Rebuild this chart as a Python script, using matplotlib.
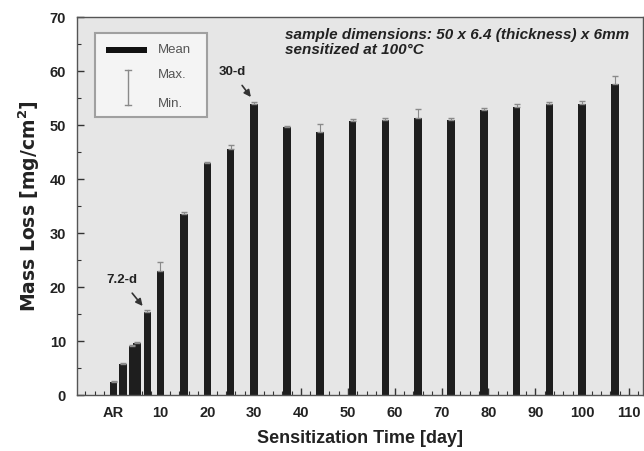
import matplotlib
matplotlib.use('Agg')
import matplotlib.pyplot as plt
from matplotlib.patches import Rectangle
from matplotlib.ticker import MultipleLocator

plt.rcParams['font.family'] = ['Liberation Sans', 'DejaVu Sans']

# sensitization days (0 = as received) and mass loss values
days = [0, 2, 4, 5, 7.2, 10, 15, 20, 25, 30, 37, 44, 51, 58, 65, 72, 79, 86, 93, 100, 107]
mean_loss = [2.4, 5.7, 9.0, 9.6, 15.4, 23.0, 33.6, 42.9, 45.6, 54.0, 49.6, 48.8,
             50.8, 51.0, 51.4, 50.9, 52.8, 53.3, 53.9, 54.0, 57.7]
# distance from mean up to the max. value (min. is hidden inside the bar)
to_max = [0.2, 0.2, 0.3, 0.3, 0.3, 1.6, 0.3, 0.3, 0.8, 0.3, 0.3, 1.4,
          0.4, 0.4, 1.5, 0.4, 0.4, 0.6, 0.4, 0.4, 1.4]
to_min = [0] * len(days)

xticks = [0, 10, 20, 30, 40, 50, 60, 70, 80, 90, 100, 110]
xlabels = ['AR', '10', '20', '30', '40', '50', '60', '70', '80', '90', '100', '110']

fig = plt.figure(figsize=(6.44, 4.51), dpi=100)
ax = fig.add_axes([0.1196, 0.124, 0.879, 0.838])
ax.set_facecolor('#e6e6e6')

ax.bar(days, mean_loss, width=1.6, color='#1e1e1e', zorder=2)
ax.errorbar(days, mean_loss, yerr=[to_min, to_max], fmt='none', ecolor='#8a8a8a',
            elinewidth=0.8, capsize=2, zorder=3)

ax.set_xlim(-7.8, 113)
ax.set_ylim(0, 70)
ax.set_xticks(xticks)
ax.set_xticklabels(xlabels)
ax.xaxis.set_minor_locator(MultipleLocator(2))
ax.yaxis.set_major_locator(MultipleLocator(10))
ax.yaxis.set_minor_locator(MultipleLocator(5))
ax.tick_params(axis='both', which='major', direction='in', length=5, width=1,
               labelsize=10.5, pad=8, color='#333333')
ax.tick_params(axis='both', which='minor', direction='in', length=3, width=0.8,
               color='#333333')
ax.tick_params(top=False, right=False, which='both')
for lab in ax.get_xticklabels() + ax.get_yticklabels():
    lab.set_fontweight('bold')
    lab.set_color('#222222')
for s in ax.spines.values():
    s.set_color('#555555')
    s.set_linewidth(1)

ax.set_xlabel('Sensitization Time [day]', fontsize=13, fontweight='bold',
              color='#222222', labelpad=7)
ax.set_ylabel('Mass Loss [mg/cm$^\\mathbf{2}$]', fontsize=13.5, fontweight='bold',
              family=['DejaVu Sans'], color='#222222', labelpad=5)

# legend drawn by hand (Mean bar, Max./Min. range)
ax.add_patch(Rectangle((0.032, 0.735), 0.197, 0.223, transform=ax.transAxes,
                       facecolor='#f4f4f4', edgecolor='#a0a0a0', lw=1.5, zorder=4))
ax.add_patch(Rectangle((0.051, 0.905), 0.072, 0.016, transform=ax.transAxes,
                       facecolor='#111111', edgecolor='none', zorder=5))
ax.plot([0.090, 0.090], [0.767, 0.860], transform=ax.transAxes,
        color='#8a8a8a', lw=1, zorder=5)
ax.plot([0.084, 0.096], [0.860, 0.860], transform=ax.transAxes, color='#8a8a8a', lw=1, zorder=5)
ax.plot([0.084, 0.096], [0.767, 0.767], transform=ax.transAxes, color='#8a8a8a', lw=1, zorder=5)
ax.text(0.143, 0.913, 'Mean', transform=ax.transAxes, fontsize=9.5,
        color='#555555', va='center', zorder=5)
ax.text(0.143, 0.848, 'Max.', transform=ax.transAxes, fontsize=9.5,
        color='#555555', va='center', zorder=5)
ax.text(0.143, 0.769, 'Min.', transform=ax.transAxes, fontsize=9.5,
        color='#555555', va='center', zorder=5)

ax.text(0.367, 0.952, 'sample dimensions: 50 x 6.4 (thickness) x 6mm',
        transform=ax.transAxes, fontsize=11, fontweight='bold', style='italic',
        color='#222222', va='center')
ax.text(0.367, 0.912, 'sensitized at 100\u00b0C',
        transform=ax.transAxes, fontsize=11, fontweight='bold', style='italic',
        color='#222222', va='center')

ax.annotate('7.2-d', xy=(6.2, 16.5), xytext=(1.7, 21.3), fontsize=9.5,
            fontweight='bold', ha='center', va='center', color='#222222',
            arrowprops=dict(arrowstyle='-|>', color='#333333', lw=1.2,
                            shrinkA=4, shrinkB=0, mutation_scale=10))
ax.annotate('30-d', xy=(29.3, 55.2), xytext=(25.3, 59.8), fontsize=9.5,
            fontweight='bold', ha='center', va='center', color='#222222',
            arrowprops=dict(arrowstyle='-|>', color='#333333', lw=1.2,
                            shrinkA=4, shrinkB=0, mutation_scale=10))

fig.savefig('out.png', dpi=100)
